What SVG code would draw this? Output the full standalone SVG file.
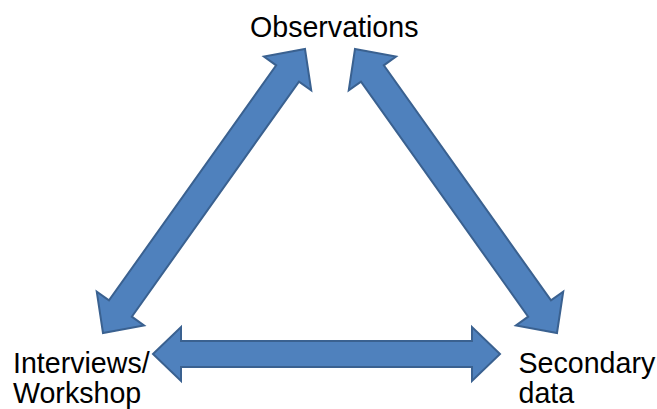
<svg xmlns="http://www.w3.org/2000/svg" width="657" height="409" viewBox="0 0 657 409">
  <style>
    .label { font-family: "Liberation Sans", Arial, sans-serif; font-size: 28.6px; fill: #000000; }
    .arrow { fill: #4F81BD; stroke: #3A6190; stroke-width: 2; stroke-linejoin: miter; }
  </style>
  <rect width="657" height="409" fill="#ffffff"/>

  <!-- double-headed block arrows between the three sources -->
  <g id="connectors">
    <!-- Interviews/Workshop <-> Observations -->
    <polygon class="arrow" transform="translate(103,333) rotate(-54.58)"
      points="0,0 30,-29 30,-14 318.5,-14 318.5,-29 348.5,0 318.5,29 318.5,14 30,14 30,29"/>
    <!-- Observations <-> Secondary data -->
    <polygon class="arrow" transform="translate(355,49) rotate(54.58)"
      points="0,0 30,-29 30,-14 318.5,-14 318.5,-29 348.5,0 318.5,29 318.5,14 30,14 30,29"/>
    <!-- Interviews/Workshop <-> Secondary data -->
    <polygon class="arrow" transform="translate(153,354)"
      points="0,0 28,-27 28,-13 319,-13 319,-27 347,0 319,27 319,13 28,13 28,27"/>
  </g>

  <g id="observations">
    <text class="label" x="250" y="37">Observations</text>
  </g>

  <g id="interviews-workshop">
    <text class="label" x="13" y="373">Interviews/</text>
    <text class="label" x="13" y="403">Workshop</text>
  </g>

  <g id="secondary-data">
    <text class="label" x="518.5" y="373">Secondary</text>
    <text class="label" x="518.5" y="403">data</text>
  </g>
</svg>
